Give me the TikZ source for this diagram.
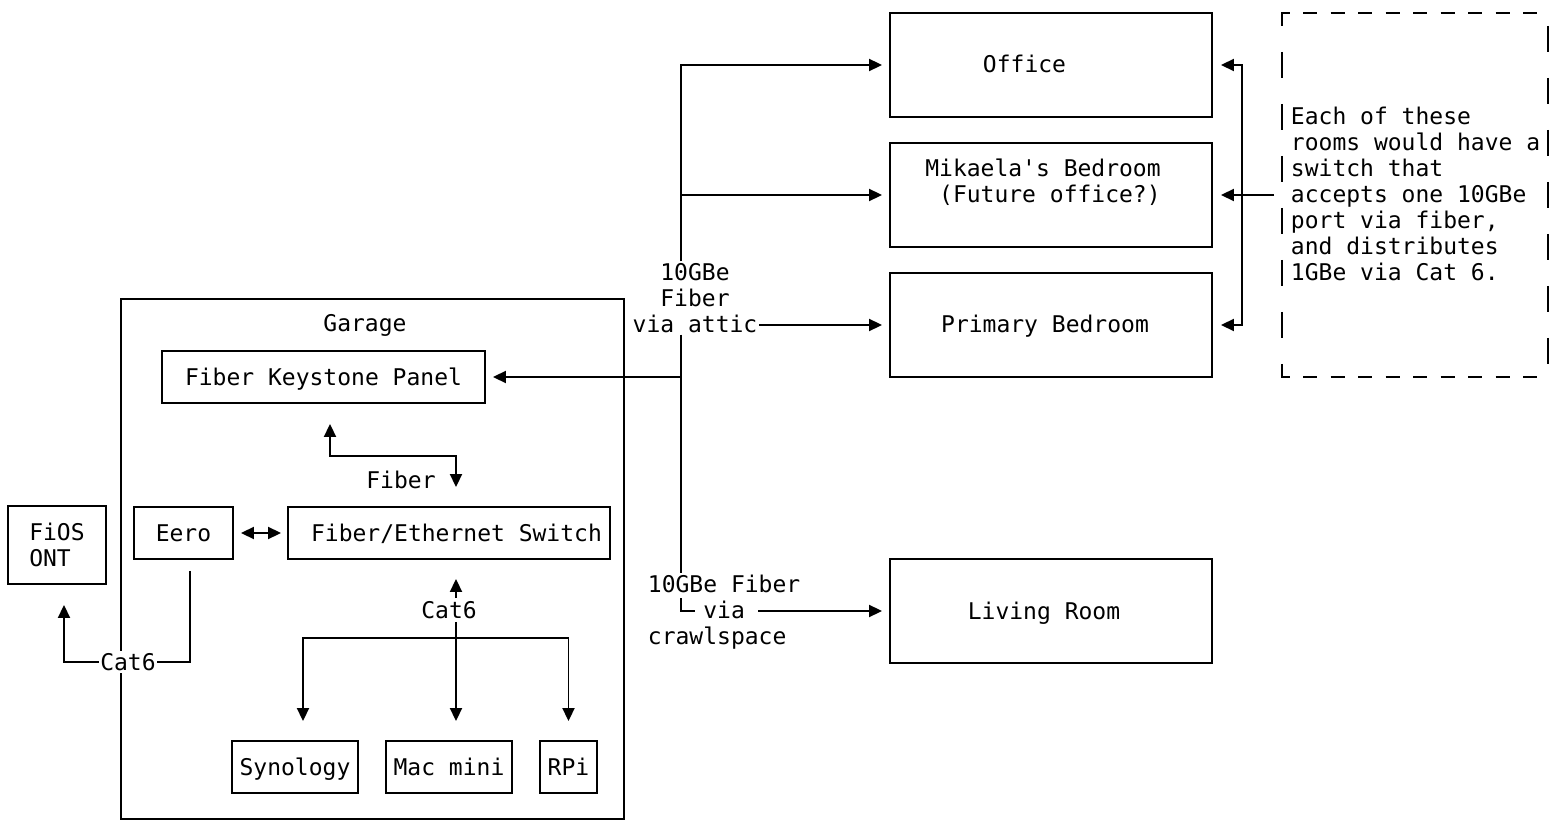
\documentclass[tikz,border=0pt]{standalone}
\usepackage{fontspec}
\setmonofont{DejaVu Sans Mono}
\usepackage{tikz}
\usetikzlibrary{arrows.meta}

\begin{document}
\begin{tikzpicture}[x=1pt,y=-1pt,line width=1.9pt,>={Triangle[length=13pt,width=12pt]},
  every node/.style={font=\ttfamily\fontsize{23}{26}\selectfont,inner sep=1pt},
  box/.style={draw,inner sep=0pt},
  tx/.style={text height=18pt,text depth=2pt}]
\useasboundingbox (0,0) rectangle (1556,834);
\node[box,minimum width=503,minimum height=520] (garage) at (372.5,559) {};
\node[tx] (garagelbl) at (365,324) {Garage};
\node[box,tx,minimum width=323,minimum height=52] (keystone) at (323.5,377) {Fiber Keystone Panel};
\node[box,minimum width=322,minimum height=52,label={[tx,xshift=7.5pt]center:Fiber/Ethernet Switch}] (switch) at (449,533) {};
\node[box,tx,minimum width=99,minimum height=52] (eero) at (183.5,533) {Eero};
\node[box,align=left,minimum width=98,minimum height=78] (ont) at (57,545) {FiOS\\ONT};
\node[box,tx,minimum width=126,minimum height=52] (synology) at (295,767) {Synology};
\node[box,tx,minimum width=126,minimum height=52] (macmini) at (449,767) {Mac mini};
\node[box,tx,minimum width=57,minimum height=52] (rpi) at (568.5,767) {RPi};
\node[box,minimum width=322,minimum height=104,label={[tx,xshift=-26.5pt]center:Office}] (office) at (1051,65) {};
\node[box,minimum width=322,minimum height=104,label={[align=left,xshift=-8pt,yshift=13pt]center:{Mikaela's Bedroom\\\hphantom{x}(Future office?)}}] (mikaela) at (1051,195) {};
\node[box,minimum width=322,minimum height=104,label={[tx,xshift=-6pt]center:Primary Bedroom}] (primary) at (1051,325) {};
\node[box,minimum width=322,minimum height=104,label={[tx,xshift=-7pt]center:Living Room}] (living) at (1051,611) {};
\node[align=center] (attic) at (695,298) {10GBe\\Fiber\\via attic};
\node[align=left,anchor=west] (crawl) at (646,612) {10GBe Fiber\\\hphantom{0000}via\\crawlspace};
\node[align=left,anchor=west,inner sep=0pt] (note) at (1290,194) {Each of these\\rooms would have a\\switch that\\accepts one 10GBe\\port via fiber,\\and distributes\\1GBe via Cat 6.};
\node[minimum width=266,minimum height=364,inner sep=0pt] (notebox) at (1415,195) {};
\coordinate (trunk) at (681,377);
\coordinate (crawlbend) at (681,611);
\coordinate (fibturn) at (456,456);
\coordinate (bus) at (456,638);
\coordinate (cat6left) at (128,662);

\draw[->,shorten >=7pt] (attic.north -| trunk) |- (office.west);
\draw[->,shorten >=7pt] (trunk |- mikaela.west) -- (mikaela.west);
\draw[->,shorten >=7pt] (attic.east |- primary.west) -- (primary.west);
\draw (attic.south -| trunk) -- (crawl.north -| trunk);
\draw[->,shorten >=7pt] (trunk) -- (keystone.east);
\draw ([yshift=13pt]crawlbend) -- (crawlbend) -- ++(14,0);
\draw[->,shorten >=7pt] ([xshift=77pt]crawlbend) -- (living.west);

\draw[<->,shorten <=20pt,shorten >=19pt] ([xshift=6.5pt]keystone.south) |- (fibturn) -- (switch.north -| fibturn);
\node[tx] (fiberlbl) at (401,480) {Fiber};
\draw[<->,shorten <=7pt,shorten >=6pt] (eero.east) -- (switch.west);
\draw[->,shorten <=11pt,shorten >=20pt] ([xshift=6.5pt]eero.south) |- (cat6left) -| ([xshift=7pt]ont.south);
\node[tx,fill=white] (cat6a) at (cat6left) {Cat6};
\node[tx] (cat6b) at (449,610) {Cat6};
\draw[->,shorten >=19pt] (cat6b.north -| bus) -- (switch.south -| bus);
\draw[->,shorten >=19pt] (cat6b.south -| bus) -- (macmini.north -| bus);
\draw[<->,shorten <=19pt,shorten >=19pt] ([xshift=8pt]synology.north) |- (bus) -| (rpi.north);

\draw[<->,shorten <=8pt,shorten >=8pt] (office.east) -- ++(29,0) |- (primary.east);
\draw[->,shorten <=7pt,shorten >=8pt] (notebox.west |- mikaela.east) -- (mikaela.east);
\draw (1282,26) -- (1282,13) -- (1290,13);
\draw (1282,364) -- (1282,377) -- (1290,377);
\draw[dash pattern=on 14pt off 13.5pt] (1303,13) -- (1548,13);
\draw[dash pattern=on 14pt off 13.5pt] (1303,377) -- (1548,377);
\draw[dash pattern=on 26pt off 26pt] (1282,52) -- (1282,338);
\draw[dash pattern=on 26pt off 26pt] (1548,26) -- (1548,364);
\end{tikzpicture}
\end{document}
